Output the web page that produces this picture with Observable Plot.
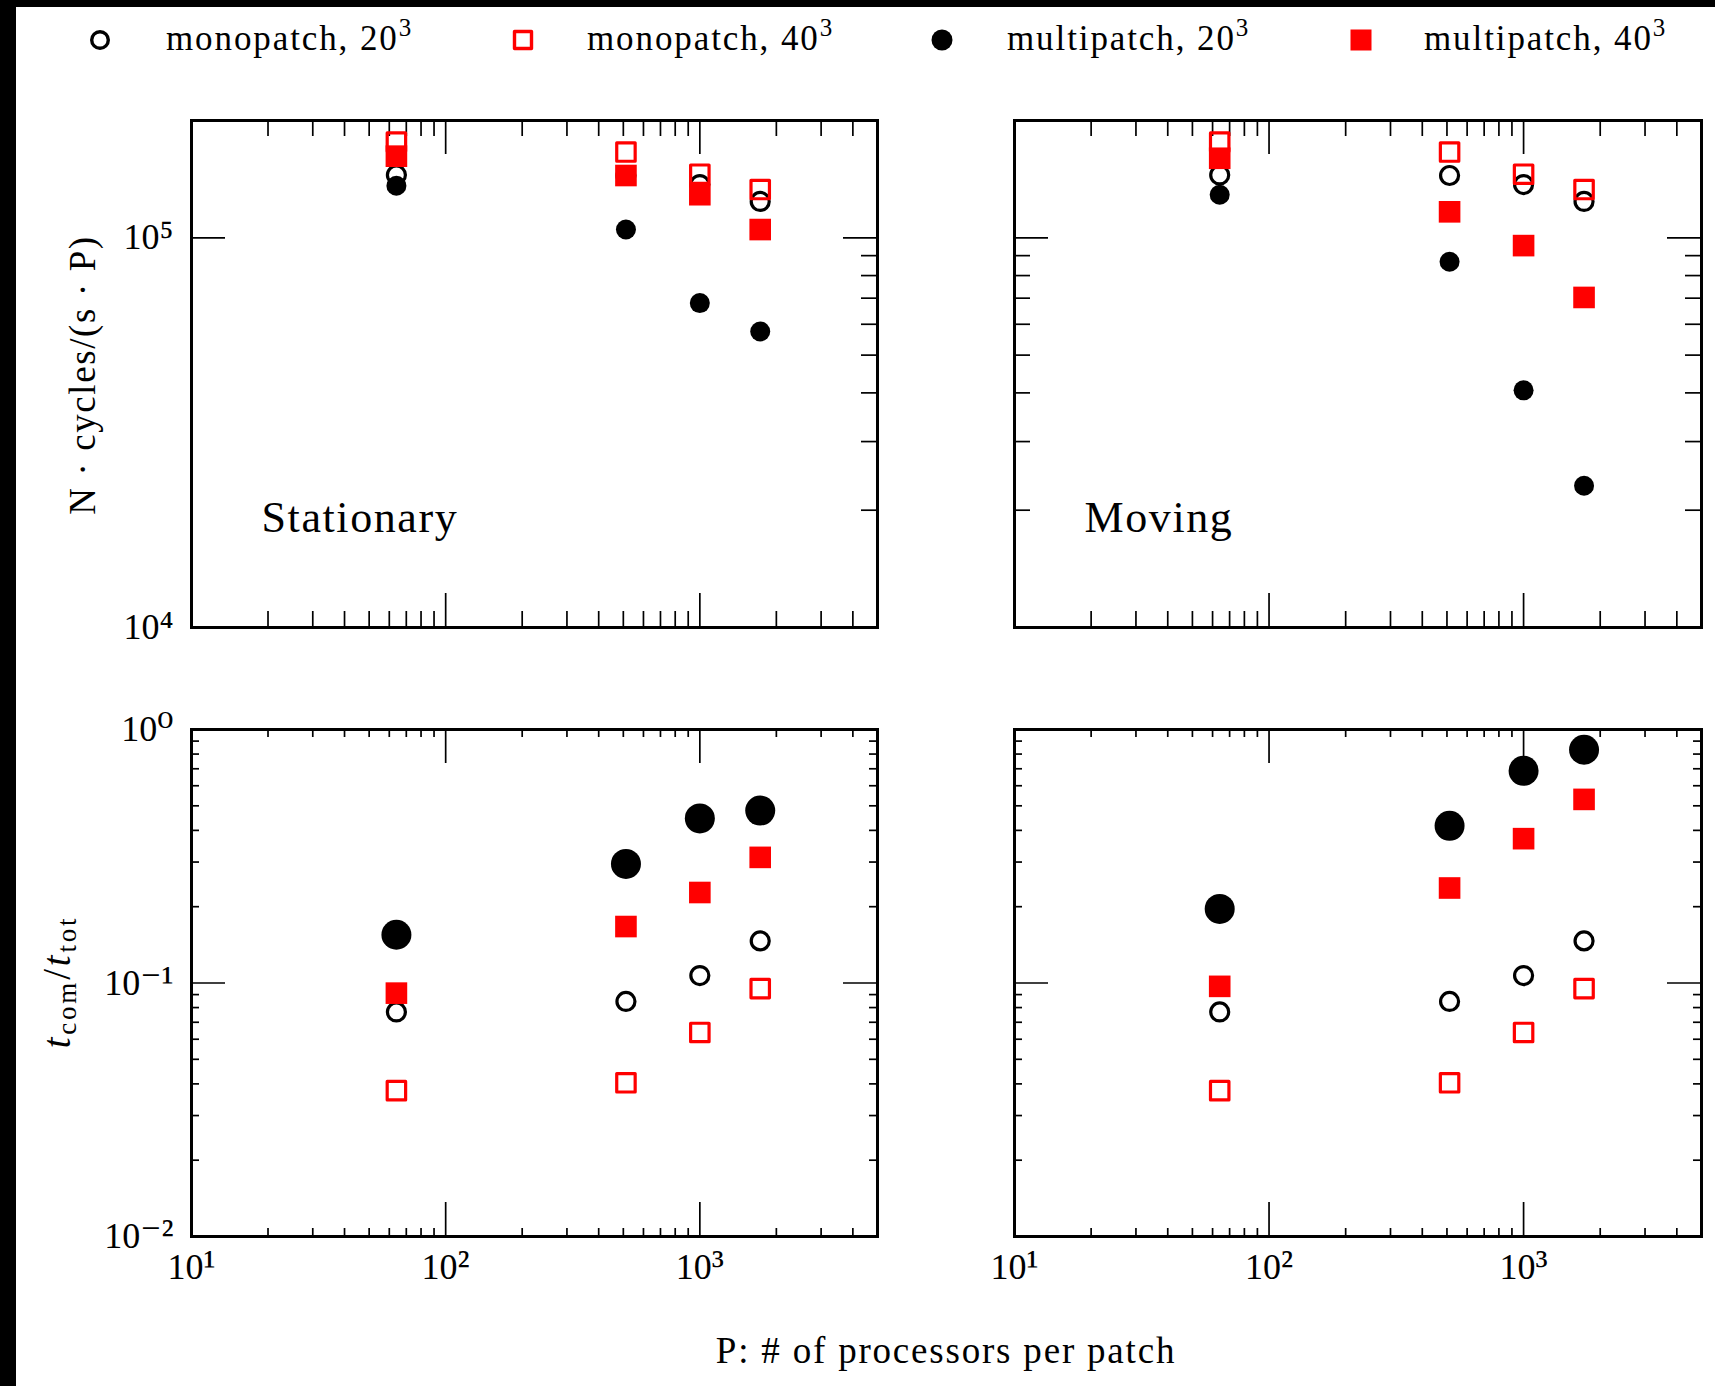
<!DOCTYPE html>
<html>
<head>
<meta charset="utf-8">
<script src="https://cdn.jsdelivr.net/npm/d3@7"></script>
<script src="https://cdn.jsdelivr.net/npm/@observablehq/plot@0.6"></script>
<style>
  html, body { margin: 0; padding: 0; background: #fff; }
  #page { position: relative; width: 1715px; height: 1386px; overflow: hidden; background: #fff; }
  .strip { position: absolute; background: #000; }
  #page svg { position: absolute; }
</style>
</head>
<body>
<div id="page"></div>
<script>
// Processors per patch (4^3, 8^3, 10^3, 12^3)
const procs = [64, 512, 1000, 1728];

// Throughput, N·cycles/(s·P) — stationary grid
const statMono20  = [1.45e5, 1.445e5, 1.37e5, 1.24e5];
const statMono40  = [1.76e5, 1.66e5, 1.456e5, 1.33e5];
const statMulti20 = [1.36e5, 1.05e5, 6.8e4, 5.75e4];
const statMulti40 = [1.62e5, 1.445e5, 1.29e5, 1.05e5];

// Throughput, N·cycles/(s·P) — moving grid
const movMono20  = [1.45e5, 1.445e5, 1.37e5, 1.24e5];
const movMono40  = [1.76e5, 1.66e5, 1.456e5, 1.33e5];
const movMulti20 = [1.29e5, 8.68e4, 4.06e4, 2.31e4];
const movMulti40 = [1.60e5, 1.166e5, 9.55e4, 7.03e4];

// Communication fraction t_com/t_tot — stationary grid
const statCommMono20  = [0.0769, 0.0846, 0.107, 0.1466];
const statCommMono40  = [0.0376, 0.0404, 0.0638, 0.095];
const statCommMulti20 = [0.155, 0.295, 0.446, 0.479];
const statCommMulti40 = [0.0912, 0.167, 0.2275, 0.313];

// Communication fraction t_com/t_tot — moving grid
const movCommMono20  = [0.0769, 0.0846, 0.107, 0.1466];
const movCommMono40  = [0.0376, 0.0404, 0.0638, 0.095];
const movCommMulti20 = [0.196, 0.417, 0.687, 0.832];
const movCommMulti40 = [0.097, 0.237, 0.371, 0.53];

// Series names and grid sizes (legend)
const seriesNames = ["monopatch", "monopatch", "multipatch", "multipatch"];
const seriesGrids = [20, 40, 20, 40];

// Axes
const xDomain = [10, 5000];
const rateDomain = [1e4, 2e5];
const commDomain = [1e-2, 1];
const xTickLabels = [10, 100, 1000];
const xMajorTicks = [100, 1000];
const xMinorTicks = [20, 30, 40, 50, 60, 70, 80, 90, 200, 300, 400, 500, 600, 700, 800, 900, 2000, 3000, 4000];
const rateTickLabels = [1e4, 1e5];
const rateMajorTicks = [1e5];
const rateMinorTicks = [2e4, 3e4, 4e4, 5e4, 6e4, 7e4, 8e4, 9e4];
const commTickLabels = [1e-2, 1e-1, 1];
const commMajorTicks = [1e-1];
const commMinorTicks = [0.02, 0.03, 0.04, 0.05, 0.06, 0.07, 0.08, 0.09, 0.2, 0.3, 0.4, 0.5, 0.6, 0.7, 0.8, 0.9];

const FONT = "'Liberation Serif', 'DejaVu Serif', serif";
const RED = "#ff0000";
const SUP = {"0": "⁰", "1": "¹", "2": "²", "3": "³", "4": "⁴", "5": "⁵", "6": "⁶", "7": "⁷", "8": "⁸", "9": "⁹", "-": "⁻"};
const pow10 = d => "10" + String(Math.round(Math.log10(d))).replace(/./g, c => SUP[c]);
const rows = arr => procs.map((P, i) => ({P, v: arr[i]}));

const page = document.getElementById("page");
const M = {top: 14, right: 14, bottom: 64, left: 90};

function panel(cfg) {
  const {x0, y0, w, h, yDomain, series, yMajor, yMinor, minorLen, leftMinor, xLabels, yLabels, caption, multiR} = cfg;
  const majorLen = 34;
  const tick = {stroke: "black", strokeWidth: 1.7};
  const marks = [
    // inward ticks on all four sides
    Plot.tickX(xMajorTicks, {x: d => d, insetTop: h - majorLen, ...tick}),
    Plot.tickX(xMajorTicks, {x: d => d, insetBottom: h - majorLen, ...tick}),
    Plot.tickX(xMinorTicks, {x: d => d, insetTop: h - minorLen, ...tick}),
    Plot.tickX(xMinorTicks, {x: d => d, insetBottom: h - minorLen, ...tick}),
    Plot.tickY(yMajor, {y: d => d, insetRight: w - majorLen, ...tick}),
    Plot.tickY(yMajor, {y: d => d, insetLeft: w - majorLen, ...tick}),
    Plot.tickY(yMinor, {y: d => d, insetLeft: w - minorLen, ...tick})
  ];
  if (leftMinor) marks.push(Plot.tickY(yMinor, {y: d => d, insetRight: w - minorLen, ...tick}));
  marks.push(Plot.frame({stroke: "black", strokeWidth: 3}));
  if (xLabels) marks.push(Plot.axisX({ticks: xLabels, anchor: "bottom", tickSize: 0, tickPadding: 17, tickFormat: pow10, fontSize: 36, label: null}));
  if (yLabels) marks.push(Plot.axisY({ticks: yLabels, anchor: "left", tickSize: 0, tickPadding: 18, tickFormat: pow10, fontSize: 36, label: null}));
  if (caption) marks.push(Plot.text([caption], {text: d => d, frameAnchor: "bottom-left", dx: 70, dy: -110, textAnchor: "start", lineAnchor: "middle", fontSize: 44}));
  // markers: monopatch 20³, monopatch 40³, multipatch 20³, multipatch 40³
  marks.push(
    Plot.dot(rows(series[0]), {x: "P", y: "v", r: 9, stroke: "black", strokeWidth: 3.2, fill: "none"}),
    Plot.dot(rows(series[1]), {x: "P", y: "v", symbol: "square", r: 10.4, stroke: RED, strokeWidth: 3.2, strokeLinejoin: "round", fill: "none"}),
    Plot.dot(rows(series[2]), {x: "P", y: "v", r: multiR, fill: "black"}),
    Plot.dot(rows(series[3]), {x: "P", y: "v", symbol: "square", r: 12.2, fill: RED})
  );
  const svg = Plot.plot({
    width: w + M.left + M.right,
    height: h + M.top + M.bottom,
    marginTop: M.top, marginRight: M.right, marginBottom: M.bottom, marginLeft: M.left,
    x: {type: "log", domain: xDomain, axis: xLabels ? undefined : null},
    y: {type: "log", domain: yDomain, axis: yLabels ? undefined : null},
    style: {fontFamily: FONT, background: "transparent", overflow: "visible", color: "black"},
    marks
  });
  const sel = d3.select(svg);
  // enlarge the exponent glyphs of the power-of-ten tick labels
  sel.selectAll('[aria-label*="tick label"] text').each(function() {
    const s = this.textContent;
    if (!s.startsWith("10") || s.length < 3) return;
    this.textContent = "10";
    d3.select(this).append("tspan").attr("font-size", "1.12em").text(s.slice(2));
  });
  // the panel caption is set a little wider
  sel.selectAll('[aria-label="text"] text').attr("letter-spacing", "1.6px");
  svg.style.left = (x0 - M.left) + "px";
  svg.style.top = (y0 - M.top) + "px";
  page.appendChild(svg);
}

// frame strips along the left and top edges
for (const s of [{left: 0, top: 0, width: 16, height: 1386}, {left: 0, top: 0, width: 1715, height: 7}]) {
  const d = document.createElement("div");
  d.className = "strip";
  Object.assign(d.style, {left: s.left + "px", top: s.top + "px", width: s.width + "px", height: s.height + "px"});
  page.appendChild(d);
}

// titles and legend layer
const annot = d3.create("svg").attr("width", 1715).attr("height", 1386)
  .style("left", "0px").style("top", "0px")
  .attr("font-family", FONT).attr("fill", "black");

// legend
const legendX = [100, 523, 942, 1361];
const legendTextX = [166, 587, 1007, 1424];
const legendY = 40;
seriesNames.forEach((name, i) => {
  const g = annot.append("g").attr("transform", `translate(${legendX[i]},${legendY})`);
  if (i === 0) g.append("circle").attr("r", 8.3).attr("fill", "none").attr("stroke", "black").attr("stroke-width", 3.4);
  if (i === 1) g.append("rect").attr("x", -8.5).attr("y", -8.5).attr("width", 17).attr("height", 17).attr("fill", "none").attr("stroke", RED).attr("stroke-width", 3.4).attr("stroke-linejoin", "round");
  if (i === 2) g.append("circle").attr("r", 10.5).attr("fill", "black");
  if (i === 3) g.append("rect").attr("x", -10.5).attr("y", -10.5).attr("width", 21).attr("height", 21).attr("fill", RED);
  const t = annot.append("text").attr("x", legendTextX[i]).attr("y", 50).attr("font-size", 35).attr("letter-spacing", "1.9px");
  t.append("tspan").text(`${name}, ${seriesGrids[i]}`);
  t.append("tspan").attr("font-size", 25).attr("dy", -14).text("3");
});

// y titles
annot.append("text").attr("transform", "translate(95,375) rotate(-90)").attr("text-anchor", "middle")
  .attr("font-size", 37).attr("letter-spacing", "1.6px").text("N · cycles/(s · P)");
const tt = annot.append("text").attr("transform", "translate(70,982) rotate(-90)").attr("text-anchor", "middle")
  .attr("font-size", 39).attr("letter-spacing", "2.8px");
tt.append("tspan").attr("font-style", "italic").text("t");
tt.append("tspan").attr("font-size", 27).attr("dy", 6).text("com");
tt.append("tspan").attr("dy", -6).text("/");
tt.append("tspan").attr("font-style", "italic").text("t");
tt.append("tspan").attr("font-size", 27).attr("dy", 6).text("tot");

// x title
annot.append("text").attr("x", 946).attr("y", 1363).attr("text-anchor", "middle")
  .attr("font-size", 37).attr("letter-spacing", "1.8px").text("P: # of processors per patch");

page.appendChild(annot.node());

// panels
panel({x0: 191, y0: 120, w: 686, h: 507, yDomain: rateDomain,
  series: [statMono20, statMono40, statMulti20, statMulti40],
  yMajor: rateMajorTicks, yMinor: rateMinorTicks, minorLen: 16, leftMinor: false,
  yLabels: rateTickLabels, caption: "Stationary", multiR: 10});
panel({x0: 1014, y0: 120, w: 687, h: 507, yDomain: rateDomain,
  series: [movMono20, movMono40, movMulti20, movMulti40],
  yMajor: rateMajorTicks, yMinor: rateMinorTicks, minorLen: 16, leftMinor: true,
  caption: "Moving", multiR: 10});
panel({x0: 191, y0: 729, w: 686, h: 507, yDomain: commDomain,
  series: [statCommMono20, statCommMono40, statCommMulti20, statCommMulti40],
  yMajor: commMajorTicks, yMinor: commMinorTicks, minorLen: 8, leftMinor: true,
  xLabels: xTickLabels, yLabels: commTickLabels, multiR: 15});
panel({x0: 1014, y0: 729, w: 687, h: 507, yDomain: commDomain,
  series: [movCommMono20, movCommMono40, movCommMulti20, movCommMulti40],
  yMajor: commMajorTicks, yMinor: commMinorTicks, minorLen: 8, leftMinor: true,
  xLabels: xTickLabels, multiR: 15});
</script>
</body>
</html>
